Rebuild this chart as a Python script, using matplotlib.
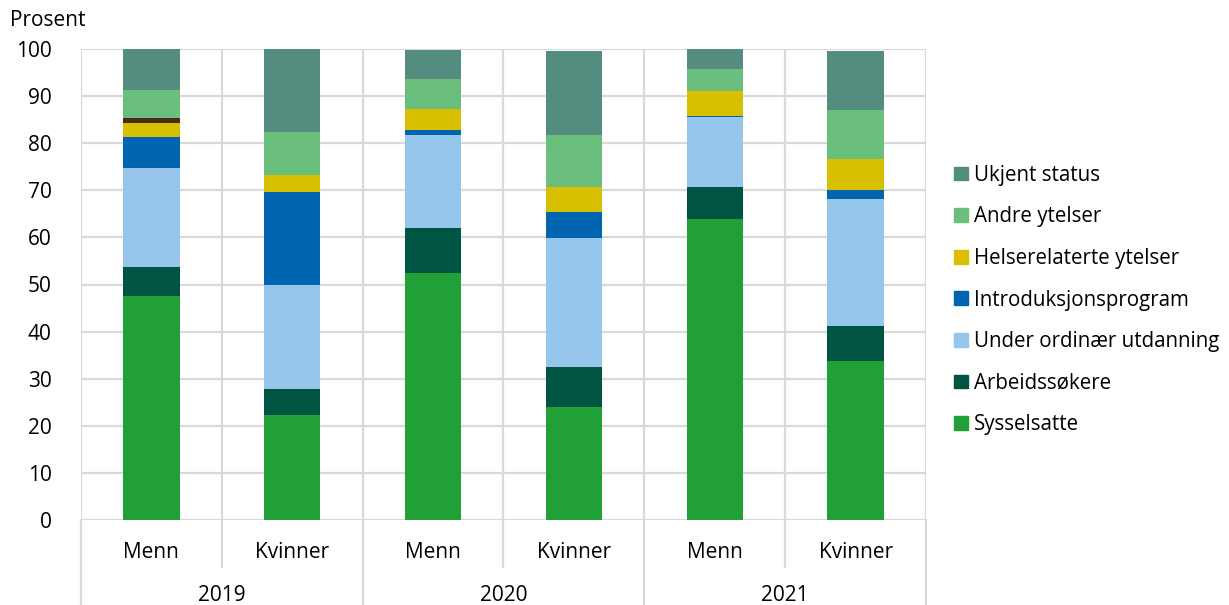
import numpy as np
import matplotlib.pyplot as plt
from matplotlib.lines import Line2D
from matplotlib.patches import Patch

plt.rcParams['font.family'] = ['Open Sans', 'DejaVu Sans']

groups = ['2019', '2020', '2021']
kjonn = ['Menn', 'Kvinner']

series = ['Sysselsatte', 'Arbeidssøkere', 'Under ordinær utdanning',
          'Introduksjonsprogram', 'Helserelaterte ytelser', 'Annet',
          'Andre ytelser', 'Ukjent status']
colors = ['#21a038', '#005442', '#97c6ec', '#0064b0', '#d8bf00', '#4b2a14',
          '#6abf7c', '#558c80']

# order of bars: Menn 2019, Kvinner 2019, Menn 2020, Kvinner 2020, Menn 2021, Kvinner 2021
sysselsatte = [47.6, 22.3, 52.4, 24.0, 63.9, 33.8]
arbeidssokere = [6.1, 5.5, 9.7, 8.5, 6.7, 7.4]
utdanning = [21.0, 22.0, 19.7, 27.3, 14.9, 26.9]
intro = [6.6, 19.9, 0.9, 5.5, 0.2, 2.0]
helse = [3.0, 3.5, 4.6, 5.4, 5.3, 6.5]
annet = [1.0, 0.0, 0.0, 0.0, 0.0, 0.0]
andre = [6.1, 9.1, 6.3, 11.0, 4.7, 10.4]
ukjent = [8.6, 17.6, 6.2, 17.9, 4.5, 12.6]

data = [sysselsatte, arbeidssokere, utdanning, intro, helse, annet, andre, ukjent]
fs = 15

fig = plt.figure(figsize=(12.29, 6.05), dpi=100)
ax = fig.add_axes([81/1229, 1-520/605, (926-81)/1229, (520-49)/605])

x = np.arange(6)
bottom = np.zeros(6)
for vals, col in zip(data, colors):
    ax.bar(x, vals, bottom=bottom, width=0.4, color=col, zorder=3)
    bottom += np.array(vals)

ax.set_xlim(-0.5, 5.5)
ax.set_ylim(0, 100)
ax.set_yticks(range(0, 101, 10))
ax.tick_params(axis='y', length=0, labelsize=fs, pad=21)
ax.set_xticks([])
for s in ax.spines.values():
    s.set_visible(False)
grid = '#d9d9d9'
for v in range(0, 101, 10):
    ax.axhline(v, color=grid, lw=1.6, zorder=1)
for b in np.arange(-0.5, 6, 1):
    ax.axvline(b, color=grid, lw=1.6, zorder=1)

# category axis below plot
trans = ax.get_xaxis_transform()
for b in np.arange(-0.5, 6, 1):
    if b in (-0.5, 1.5, 3.5, 5.5):
        ax.add_line(Line2D([b, b], [0, -0.2], transform=trans, color=grid, lw=1.6, clip_on=False))
    else:
        ax.add_line(Line2D([b, b], [0, -0.1], transform=trans, color=grid, lw=1.6, clip_on=False))
for i in range(6):
    ax.text(i, -0.068, kjonn[i % 2], transform=trans, ha='center', va='center', fontsize=fs)
for g, name in enumerate(groups):
    ax.text(2*g + 0.5, -0.16, name, transform=trans, ha='center', va='center', fontsize=fs)

fig.text(10/1229, 1-21/605, 'Prosent', ha='left', va='center', fontsize=fs)

handles = [Patch(color=colors[i], label=series[i]) for i in [7, 6, 4, 3, 2, 1, 0]]
fig.legend(handles=handles, loc='center left', bbox_to_anchor=(946/1229, 1-300/605),
           frameon=False, fontsize=14.8, handlelength=0.65, handleheight=0.65,
           handletextpad=0.3, labelspacing=1.0, borderaxespad=0)

fig.savefig('out.png', dpi=100)
